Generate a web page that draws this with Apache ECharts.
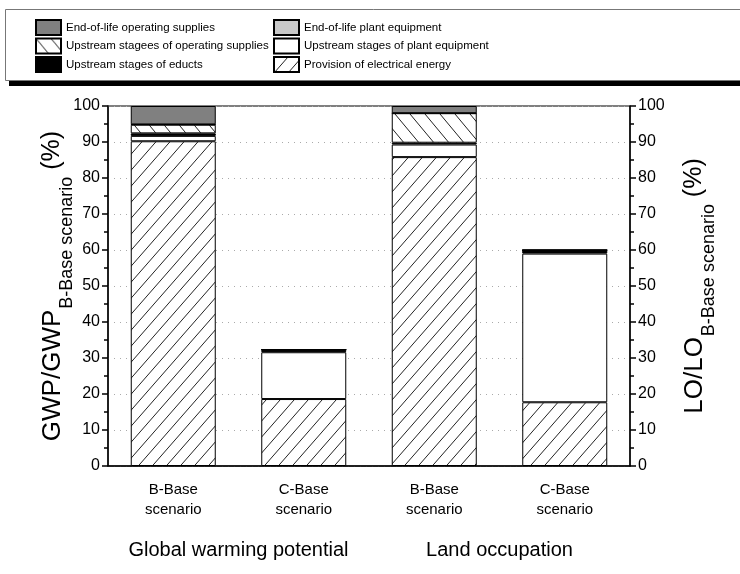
<!DOCTYPE html>
<html>
<head>
<meta charset="utf-8">
<script src="https://cdn.jsdelivr.net/npm/echarts@6/dist/echarts.min.js"></script>
<style>
  html, body { margin: 0; padding: 0; background: #fff; }
  #chart { width: 740px; height: 574px; }
</style>
</head>
<body>
<div id="chart"></div>
<script>
// Scenario categories (bottom axis) and impact groups (second row of labels)
const scenarios = ['B-Base\nscenario', 'C-Base\nscenario', 'B-Base\nscenario', 'C-Base\nscenario'];
const impactGroups = ['Global warming potential', 'Land occupation'];

// Contributions in % of the B-Base scenario, stacked from the bottom up
const electricalEnergy = [90.2, 18.6, 85.8, 17.7];
const plantUpstream = [1.5, 13.0, 3.5, 41.3];
const eductsUpstream = [0.7, 0.4, 0.5, 0.85];
const suppliesUpstream = [2.4, 0.3, 8.2, 0.1];
const plantEndOfLife = [0.1, 0.0, 0.0, 0.0];
const suppliesEndOfLife = [5.1, 0.0, 2.0, 0.05];

// Value axis
const yMin = 0;
const yMax = 100;
const yStep = 10;

const FONT = 'Arial, "Liberation Sans", sans-serif';

// hatch pattern, dir 1 = "/" and -1 = "\"
function hatch(w, h, dir) {
    const c = document.createElement('canvas');
    c.width = w;
    c.height = h;
    const ctx = c.getContext('2d');
    ctx.fillStyle = '#fff';
    ctx.fillRect(0, 0, w, h);
    ctx.strokeStyle = '#222';
    ctx.lineWidth = 1;
    for (let k = -1; k <= 1; k++) {
        ctx.beginPath();
        if (dir > 0) {
            ctx.moveTo(k * w, h);
            ctx.lineTo(k * w + w, 0);
        } else {
            ctx.moveTo(k * w, 0);
            ctx.lineTo(k * w + w, h);
        }
        ctx.stroke();
    }
    return { image: c, repeat: 'repeat' };
}

const chart = echarts.init(document.getElementById('chart'));

function stackSeries(name, data, color) {
    return {
        name: name,
        type: 'bar',
        stack: 'total',
        data: data,
        barWidth: 85,
        itemStyle: { color: color, borderColor: '#000', borderWidth: 1 },
        emphasis: { disabled: true }
    };
}

// axis title with subscript: main text, lowered subscript, then (%)
const axisName = function (main, sub) {
    return '{a|' + main + '}{b|' + sub + '}{c| (%)}';
};
const axisNameRich = {
    a: { fontSize: 26, lineHeight: 26, verticalAlign: 'top', fontFamily: FONT, color: '#000' },
    b: { fontSize: 18, lineHeight: 18, padding: [18, 0, 0, 1], verticalAlign: 'top', fontFamily: FONT, color: '#000' },
    c: { fontSize: 25, lineHeight: 22, verticalAlign: 'top', fontFamily: FONT, color: '#000' }
};

const legendText = { fontSize: 11.5, fontFamily: FONT, color: '#000' };

const option = {
    animation: false,
    backgroundColor: '#fff',
    graphic: [
        // legend frame with its heavy shadow
        { type: 'rect', shape: { x: 9, y: 80, width: 740, height: 6 }, style: { fill: '#000' }, z: -1 },
        { type: 'rect', shape: { x: 5.5, y: 9.5, width: 745, height: 71 }, style: { fill: '#fff', stroke: '#777', lineWidth: 1 }, z: -1 }
    ],
    legend: [
        {
            left: 35, top: 19, padding: 0, orient: 'vertical', icon: 'rect',
            itemWidth: 25, itemHeight: 15, itemGap: 1.5,
            textStyle: legendText, selectedMode: false,
            data: ['End-of-life operating supplies', 'Upstream stagees of operating supplies', 'Upstream stages of educts']
        },
        {
            left: 273, top: 19, padding: 0, orient: 'vertical', icon: 'rect',
            itemWidth: 25, itemHeight: 15, itemGap: 1.5,
            textStyle: legendText, selectedMode: false,
            data: ['End-of-life plant equipment', 'Upstream stages of plant equipment', 'Provision of electrical energy']
        }
    ],
    grid: {
        left: 108, right: 110, top: 106, bottom: 108,
        show: true, borderColor: '#000', borderWidth: 1, backgroundColor: 'transparent'
    },
    xAxis: [
        {
            type: 'category',
            data: scenarios,
            axisLine: { lineStyle: { color: '#000', width: 1.5 } },
            axisTick: { alignWithLabel: true, length: 6, lineStyle: { color: '#000', width: 1.5 } },
            axisLabel: { color: '#000', fontSize: 15, lineHeight: 20, margin: 14, fontFamily: FONT }
        },
        {
            type: 'category',
            position: 'bottom',
            data: impactGroups,
            axisLine: { show: false },
            axisTick: { show: false },
            axisLabel: { color: '#000', fontSize: 20, margin: 74, interval: 0, fontFamily: FONT }
        }
    ],
    yAxis: [
        {
            type: 'value',
            min: yMin, max: yMax, interval: yStep,
            position: 'left',
            name: axisName('GWP/GWP', 'B-Base scenario'),
            nameLocation: 'middle', nameRotate: 90, nameGap: 42, nameMoveOverlap: false,
            nameTextStyle: { rich: axisNameRich },
            axisLine: { show: true, lineStyle: { color: '#000', width: 1.5 } },
            axisTick: { show: true, length: 6, lineStyle: { color: '#000', width: 1.5 } },
            minorTick: { show: true, splitNumber: 2, length: 4, lineStyle: { color: '#000', width: 1.5 } },
            axisLabel: { color: '#000', fontSize: 16, margin: 8, fontFamily: FONT },
            splitLine: { show: true, lineStyle: { color: '#aaa', type: [1, 5], width: 1 } }
        },
        {
            type: 'value',
            min: yMin, max: yMax, interval: yStep,
            position: 'right',
            name: axisName('LO/LO', 'B-Base scenario'),
            nameLocation: 'middle', nameRotate: 90, nameGap: 52,
            nameTextStyle: { rich: axisNameRich },
            axisLine: { show: true, lineStyle: { color: '#000', width: 1.5 } },
            axisTick: { show: true, length: 6, lineStyle: { color: '#000', width: 1.5 } },
            minorTick: { show: true, splitNumber: 2, length: 4, lineStyle: { color: '#000', width: 1.5 } },
            axisLabel: { color: '#000', fontSize: 16, margin: 8, fontFamily: FONT },
            splitLine: { show: false }
        }
    ],
    series: [
        stackSeries('Provision of electrical energy', electricalEnergy, hatch(14, 16, 1)),
        stackSeries('Upstream stages of plant equipment', plantUpstream, '#fff'),
        stackSeries('Upstream stages of educts', eductsUpstream, '#000'),
        stackSeries('Upstream stagees of operating supplies', suppliesUpstream, hatch(15, 18, -1)),
        stackSeries('End-of-life plant equipment', plantEndOfLife, '#c8c8c8'),
        stackSeries('End-of-life operating supplies', suppliesEndOfLife, '#808080')
    ]
};

chart.setOption(option);
</script>
</body>
</html>
